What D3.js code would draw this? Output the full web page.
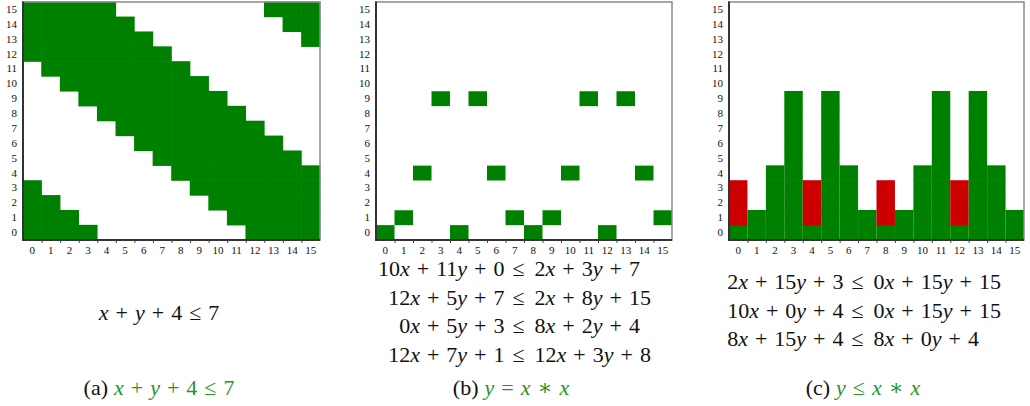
<!DOCTYPE html>
<html>
<head>
<meta charset="utf-8">
<script src="https://cdn.jsdelivr.net/npm/d3@7"></script>
<style>
  body { margin: 0; background: #fff; }
  svg { display: block; font-family: "Liberation Serif", "DejaVu Serif", serif; }
</style>
</head>
<body>
<div id="chart"></div>
<script>

// values 0..15 on both axes
var cells = [0, 1, 2, 3, 4, 5, 6, 7, 8, 9, 10, 11, 12, 13, 14, 15];

// panel (a): rows from y = 15 down to y = 0, one char per x (1 = green)
var gridA = [
    "1111100000000111",
    "1111110000000011",
    "1111111000000001",
    "1111111100000000",
    "0111111110000000",
    "0011111111000000",
    "0001111111100000",
    "0000111111110000",
    "0000011111111000",
    "0000001111111100",
    "0000000111111110",
    "0000000011111111",
    "1000000001111111",
    "1100000000111111",
    "1110000000011111",
    "1111000000001111"
];

// panel (b): one green cell per column
var pointY = [0, 1, 4, 9, 0, 9, 4, 1, 0, 1, 4, 9, 0, 9, 4, 1];

// panel (c): green up to this y in each column, red cells on some columns
var barTop = [0, 1, 4, 9, 0, 9, 4, 1, 0, 1, 4, 9, 0, 9, 4, 1];
var redCols = [0, 4, 8, 12];
var redRows = [1, 2, 3];

// equations under each grid
var eqA = [["x + y + 4", "7"]];
var eqB = [
    ["10x + 11y + 0", "2x + 3y + 7"],
    ["12x + 5y + 7", "2x + 8y + 15"],
    ["0x + 5y + 3", "8x + 2y + 4"],
    ["12x + 7y + 1", "12x + 3y + 8"]
];
var eqC = [
    ["2x + 15y + 3", "0x + 15y + 15"],
    ["10x + 0y + 4", "0x + 15y + 15"],
    ["8x + 15y + 4", "8x + 0y + 4"]
];
var captions = [
    ["(a)", "x + y + 4 ≤ 7"],
    ["(b)", "y = x ∗ x"],
    ["(c)", "y ≤ x ∗ x"]
];

var width = 1030, height = 406;
var green = "#008000", red = "#cc0000", capGreen = "#239623";
var fs = 22, gap = 7;

var svg = d3.select("#chart").append("svg")
    .attr("width", width)
    .attr("height", height);

// set up one grid panel, return the scales
function makePanel(left, right) {
    var x = d3.scaleBand().domain(cells).range([left, right]);
    var y = d3.scaleBand().domain(cells).range([240, 2]);
    var g = svg.append("g");
    return {g: g, x: x, y: y, left: left, right: right};
}

function drawFrame(p) {
    var g = p.g;
    g.append("rect")
        .attr("x", p.left).attr("y", 2)
        .attr("width", p.right - p.left).attr("height", 238)
        .attr("fill", "none").attr("stroke", "#8a8a8a").attr("stroke-width", 1.5);

    // boundary ticks on the bottom
    var xl = d3.scaleLinear().domain([0, 16]).range([p.left, p.right]);
    g.append("g")
        .attr("transform", "translate(0,240)")
        .call(d3.axisBottom(xl).tickValues(d3.range(1, 16)).tickFormat("").tickSize(3).tickSizeOuter(0))
        .call(function(a) { a.select(".domain").remove(); a.selectAll("line").attr("stroke", "#444"); });

    // labels
    g.append("g")
        .attr("transform", "translate(0,240)")
        .call(d3.axisBottom(p.x).tickSize(0).tickPadding(6))
        .call(function(a) {
            a.select(".domain").remove();
            a.selectAll("text").attr("font-size", 11).attr("font-family", "Liberation Serif").attr("fill", "#111");
        });
    g.append("g")
        .attr("transform", "translate(" + p.left + ",0)")
        .call(d3.axisLeft(p.y).tickSize(0).tickPadding(6))
        .call(function(a) {
            a.select(".domain").remove();
            a.selectAll("text").attr("font-size", 11).attr("font-family", "Liberation Serif").attr("fill", "#111");
        });

    g.append("line")
        .attr("x1", p.left).attr("x2", p.left).attr("y1", 1.5).attr("y2", 241)
        .attr("stroke", "#333").attr("stroke-width", 2);
    g.append("line")
        .attr("x1", p.left - 1).attr("x2", p.right).attr("y1", 240).attr("y2", 240)
        .attr("stroke", "#333").attr("stroke-width", 2);
}

// text with italic variables and wide operator spacing
function mathText(sel, str, firstGap) {
    str.split(" ").forEach(function(tok, i) {
        var parts = tok.match(/[a-z]+|[^a-z]+/g);
        parts.forEach(function(part, j) {
            var t = sel.append("tspan").text(part);
            if (/[a-z]/.test(part)) t.style("font-style", "italic");
            if (j === 0 && i > 0) t.attr("dx", gap);
            if (j === 0 && i === 0 && firstGap) t.attr("dx", firstGap);
        });
    });
}

function drawEquations(rows, mid, baselines) {
    rows.forEach(function(r, i) {
        var lhs = svg.append("text")
            .attr("x", mid - 14).attr("y", baselines[i])
            .attr("font-size", fs).attr("text-anchor", "end").attr("fill", "#111");
        mathText(lhs, r[0]);
        svg.append("text")
            .attr("x", mid).attr("y", baselines[i])
            .attr("font-size", fs).attr("text-anchor", "middle").attr("fill", "#111")
            .text("≤");
        var rhs = svg.append("text")
            .attr("x", mid + 16).attr("y", baselines[i])
            .attr("font-size", fs).attr("text-anchor", "start").attr("fill", "#111");
        mathText(rhs, r[1]);
    });
}

// ---- panel (a)
var pa = makePanel(23, 320);
var cellsA = [];
gridA.forEach(function(row, i) {
    row.split("").forEach(function(c, xi) {
        if (c === "1") cellsA.push({x: xi, y: 15 - i});
    });
});
pa.g.selectAll(".cellA")
    .data(cellsA)
    .enter()
    .append("rect")
    .attr("class", "cellA")
    .attr("x", function(d) { return pa.x(d.x) - 0.3; })
    .attr("y", function(d) { return pa.y(d.y) - 0.3; })
    .attr("width", pa.x.bandwidth() + 0.6)
    .attr("height", pa.y.bandwidth() + 0.6)
    .attr("fill", green);
drawFrame(pa);

// ---- panel (b)
var pb = makePanel(376, 672);
pb.g.selectAll(".cellB")
    .data(cells)
    .enter()
    .append("rect")
    .attr("class", "cellB")
    .attr("x", function(d) { return pb.x(d); })
    .attr("y", function(d) { return pb.y(pointY[d]); })
    .attr("width", pb.x.bandwidth())
    .attr("height", pb.y.bandwidth())
    .attr("fill", green);
drawFrame(pb);

// ---- panel (c)
var pc = makePanel(729, 1024);
var cellsC = [];
cells.forEach(function(xv) {
    cells.forEach(function(yv) {
        if (yv <= barTop[xv]) cellsC.push({x: xv, y: yv, c: green});
        else if (redCols.indexOf(xv) >= 0 && redRows.indexOf(yv) >= 0) cellsC.push({x: xv, y: yv, c: red});
    });
});
pc.g.selectAll(".cellC")
    .data(cellsC)
    .enter()
    .append("rect")
    .attr("class", "cellC")
    .attr("x", function(d) { return pc.x(d.x); })
    .attr("y", function(d) { return pc.y(d.y) - 0.3; })
    .attr("width", pc.x.bandwidth())
    .attr("height", pc.y.bandwidth() + 0.6)
    .attr("fill", function(d) { return d.c; });
drawFrame(pc);

// ---- equations
var fa = svg.append("text")
    .attr("x", 159).attr("y", 320)
    .attr("font-size", fs).attr("text-anchor", "middle").attr("fill", "#111");
mathText(fa, eqA[0][0] + " ≤ " + eqA[0][1]);

drawEquations(eqB, 518.5, [276, 304.5, 333, 361.5]);
drawEquations(eqC, 857.5, [289.3, 317.7, 346]);

// ---- captions
var capX = [159, 511, 863];
captions.forEach(function(c, i) {
    var t = svg.append("text")
        .attr("x", capX[i]).attr("y", 395)
        .attr("font-size", fs).attr("text-anchor", "middle").attr("fill", "#111");
    t.append("tspan").text(c[0]);
    var m = t.append("tspan").attr("fill", capGreen);
    mathText(m, c[1], 6);
});

</script>
</body>
</html>
